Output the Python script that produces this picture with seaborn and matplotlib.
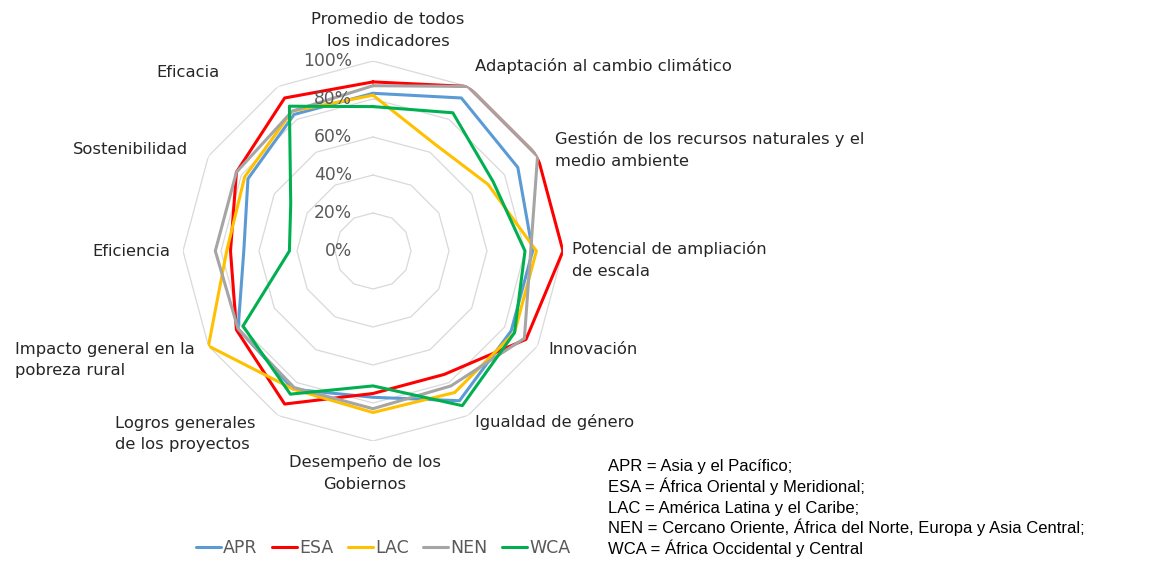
import numpy as np
import pandas as pd
import matplotlib
matplotlib.use('Agg')
import matplotlib.pyplot as plt
import seaborn as sns

# indicators, clockwise from the top
indicators = ['Promedio de todos\nlos indicadores',
              'Adaptación al cambio climático',
              'Gestión de los recursos naturales y el\nmedio ambiente',
              'Potencial de ampliación\nde escala',
              'Innovación',
              'Igualdad de género',
              'Desempeño de los\nGobiernos',
              'Logros generales\nde los proyectos',
              'Impacto general en la\npobreza rural',
              'Eficiencia',
              'Sostenibilidad',
              'Eficacia']

regions = ['APR', 'ESA', 'LAC', 'NEN', 'WCA']
apr = [83, 93, 88, 84, 84, 91, 77, 84, 82, 68, 76, 83]
esa = [89, 100, 100, 100, 93, 75, 75, 93, 83, 75, 83, 93]
lac = [82, 65, 70, 86, 86, 86, 85, 84, 100, 77, 78, 85]
nen = [87, 100, 100, 83, 92, 82, 83, 83, 82, 83, 83, 85]
wca = [76, 84, 73, 80, 86, 94, 71, 87, 79, 44, 50, 88]
ring_levels = [0, 20, 40, 60, 80, 100]

colors = ['#5B9BD5', '#FF0000', '#FFC000', '#A5A5A5', '#00B050']

abbrev_lines = ['APR = Asia y el Pacífico;',
                'ESA = África Oriental y Meridional;',
                'LAC = América Latina y el Caribe;',
                'NEN = Cercano Oriente, África del Norte, Europa y Asia Central;',
                'WCA = África Occidental y Central']

n = len(indicators)
theta = np.arange(n) * 2 * np.pi / n
theta_closed = np.append(theta, 2 * np.pi)

rows = []
for reg, vals in zip(regions, [apr, esa, lac, nen, wca]):
    vals_closed = list(vals) + [vals[0]]
    for t, v in zip(theta_closed, vals_closed):
        rows.append({'theta': t, 'value': v / 100, 'region': reg})
df = pd.DataFrame(rows)

sns.set_style('white')
plt.rcParams['font.family'] = ['DejaVu Sans']

W, H = 1152, 563
fig = plt.figure(figsize=(W / 100, H / 100), dpi=100)
cx, cy, R = 373, 251, 190
ax = fig.add_axes([(cx - R) / W, (H - cy - R) / H, 2 * R / W, 2 * R / H], projection='polar')
ax.set_theta_zero_location('N')
ax.set_theta_direction(-1)
ax.grid(False)
ax.spines['polar'].set_visible(False)

# polygon rings
for r in ring_levels[1:]:
    ax.plot(theta_closed, [r / 100] * (n + 1), color='#D9D9D9', lw=0.9, zorder=1)

sns.lineplot(data=df, x='theta', y='value', hue='region', palette=colors,
             sort=False, estimator=None, lw=2.2, ax=ax, zorder=3)

ax.set_ylim(0, 1)
ax.set_xticks([])
ax.set_yticks([])
ax.set_xlabel('')
ax.set_ylabel('')

# radial tick labels
for r in ring_levels:
    ax.annotate('{}%'.format(r), xy=(0, r / 100), xytext=(-21 * 0.72, 0),
                textcoords='offset points', ha='right', va='center',
                fontsize=12.3, color='#595959', annotation_clip=False)

# category labels: offset (px) from the 100% vertex
offsets = [(15, 12, 'center', 'bottom', 'center'),
           (7, 20, 'left', 'center', 'left'),
           (17.5, 6, 'left', 'center', 'left'),
           (9, -9, 'left', 'center', 'left'),
           (10.5, -4, 'left', 'center', 'left'),
           (7, -6.5, 'left', 'center', 'left'),
           (-8, -14, 'center', 'top', 'center'),
           (-23, -18.5, 'right', 'center', 'left'),
           (-13.5, -14, 'right', 'center', 'left'),
           (-13, 0, 'right', 'center', 'right'),
           (-20.5, 7, 'right', 'center', 'right'),
           (-58, 13.5, 'right', 'center', 'right')]
for t, lab, (dx, dy, ha, va, ma) in zip(theta, indicators, offsets):
    ax.annotate(lab, xy=(t, 1.0), xytext=(dx * 0.72, dy * 0.72),
                textcoords='offset points', ha=ha, va=va, multialignment=ma,
                fontsize=11.8, color='#262626', linespacing=1.55,
                annotation_clip=False)

handles, labels = ax.get_legend_handles_labels()
if ax.get_legend() is not None:
    ax.get_legend().remove()
fig.legend(handles, labels, loc='center', bbox_to_anchor=(383 / W, 1 - 548 / H),
           ncol=5, frameon=False, handlelength=1.45, handletextpad=0.1,
           columnspacing=0.85, prop={'size': 12.5}, labelcolor='#595959')

# abbreviations, one line at a time for even spacing
for i, line in enumerate(abbrev_lines):
    fig.text(608 / W, 1 - (471 + i * 20.75) / H, line, ha='left', va='baseline',
             family='Liberation Sans', fontsize=12, color='black')

fig.savefig('out.png', dpi=100, facecolor='white')
